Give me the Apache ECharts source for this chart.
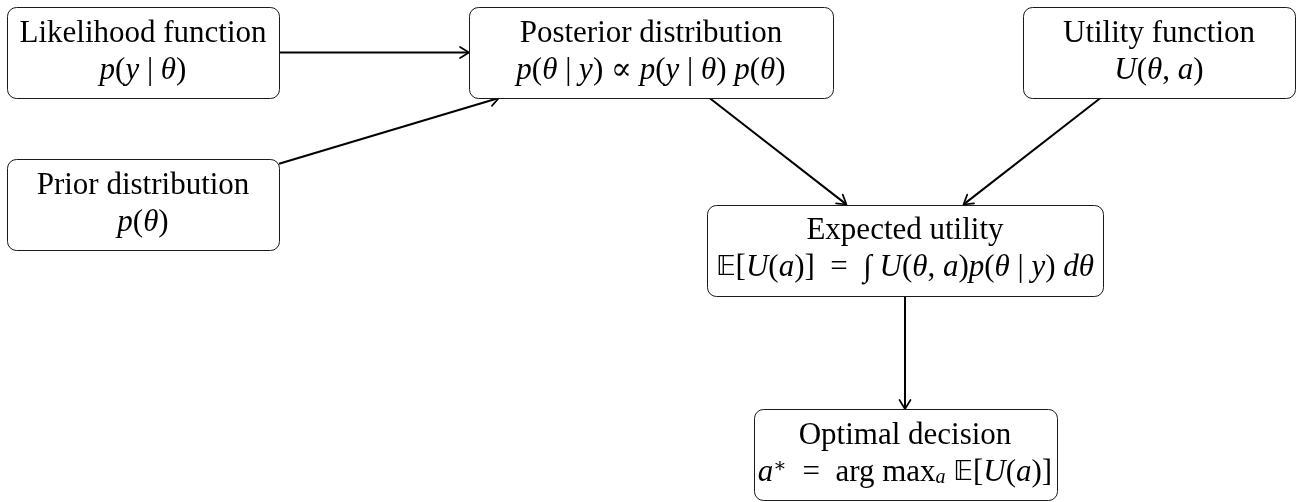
<!DOCTYPE html>
<html>
<head>
<meta charset="utf-8">
<title>Bayesian decision flow</title>
<script src="https://cdn.jsdelivr.net/npm/echarts@6/dist/echarts.min.js"></script>
<style>
  html, body { margin: 0; padding: 0; background: #fff; }
  #main { width: 1311px; height: 502px; }
</style>
</head>
<body>
<div id="main"></div>
<script>
// node captions and formulas (rich text tokens: r = upright, i = italic)
var nodeTitles = ['Likelihood function', 'Posterior distribution', 'Utility function',
                  'Prior distribution', 'Expected utility', 'Optimal decision'];
var nodeFormulas = [
  '{i|p}{r|(}{i|y}{r| | }{i|θ}{r|)}',
  '{i|p}{r|(}{i|θ}{r| | }{i|y}{r|) ∝ }{i|p}{r|(}{i|y}{r| | }{i|θ}{r|) }{i|p}{r|(}{i|θ}{r|)}',
  '{i|U}{r|(}{i|θ}{r|, }{i|a}{r|)}',
  '{i|p}{r|(}{i|θ}{r|)}',
  '{bb|𝔼}{r|[}{i|U}{r|(}{i|a}{r|)]  =  ∫ }{i|U}{r|(}{i|θ}{r|, }{i|a}{r|)}{i|p}{r|(}{i|θ}{r| | }{i|y}{r|) }{i|dθ}',
  '{i|a}{sup|∗}{r|  =  arg max}{sub|a}{r| }{bb|𝔼}{r|[}{i|U}{r|(}{i|a}{r|)]}'
];
// node centres in diagram units
var nodeX = [143, 651, 1159, 143, 905, 905];
var nodeY = [52.5, 52.5, 52.5, 204.5, 250, 454.5];
// edges: from -> to
var edgeFrom = [0, 3, 1, 2, 4];
var edgeTo   = [1, 1, 4, 4, 5];

// box extents (diagram units)
var boxW = [272, 364, 272, 272, 396, 303];
var boxH = 91;

var chart = echarts.init(document.getElementById('main'));

var serif = '"Liberation Serif", "DejaVu Serif", serif';
var fs = 31;
var mathRich = {
  r:   { fontFamily: serif, fontSize: fs, fill: '#000' },
  i:   { fontFamily: serif, fontSize: fs, fontStyle: 'italic', fill: '#000' },
  bb:  { fontFamily: '"DejaVu Sans", serif', fontSize: fs - 4, fill: '#000' },
  sup: { fontFamily: serif, fontSize: 20, fill: '#000', verticalAlign: 'top' },
  sub: { fontFamily: serif, fontSize: 20, fontStyle: 'italic', fill: '#000', verticalAlign: 'bottom' }
};

function renderNode(params, api) {
  var i = params.dataIndex;
  var c = api.coord([nodeX[i], nodeY[i]]);
  var s = api.size([boxW[i], boxH]);
  var x0 = Math.round(c[0] - s[0] / 2) + 0.5;
  var y0 = Math.round(c[1] - s[1] / 2) + 0.5;
  return {
    type: 'group',
    children: [
      { type: 'rect',
        shape: { x: x0, y: y0, width: Math.round(s[0]), height: Math.round(s[1]), r: 9 },
        style: { fill: '#fff', stroke: '#1a1a1a', lineWidth: 1 } },
      { type: 'text', x: c[0], y: c[1] - 19,
        style: { text: nodeTitles[i], font: fs + 'px ' + serif, fill: '#000',
                 align: 'center', verticalAlign: 'middle' } },
      { type: 'text', x: c[0], y: c[1] + 18,
        style: { text: nodeFormulas[i], rich: mathRich, fontFamily: serif, fontSize: fs,
                 fill: '#000', align: 'center', verticalAlign: 'middle' } }
    ]
  };
}

function clipT(dx, dy, hw, hh) {
  var tx = dx === 0 ? Infinity : hw / Math.abs(dx);
  var ty = dy === 0 ? Infinity : hh / Math.abs(dy);
  return Math.min(tx, ty);
}

function renderEdge(params, api) {
  var k = params.dataIndex;
  var a = edgeFrom[k], b = edgeTo[k];
  var pa = api.coord([nodeX[a], nodeY[a]]);
  var pb = api.coord([nodeX[b], nodeY[b]]);
  var sa = api.size([boxW[a], boxH]);
  var sb = api.size([boxW[b], boxH]);
  var dx = pb[0] - pa[0], dy = pb[1] - pa[1];
  var ta = clipT(dx, dy, sa[0] / 2, sa[1] / 2);
  var tb = clipT(dx, dy, sb[0] / 2, sb[1] / 2);
  var start = [pa[0] + dx * ta, pa[1] + dy * ta];
  var end = [pb[0] - dx * tb, pb[1] - dy * tb];
  var len = Math.sqrt(dx * dx + dy * dy);
  var ux = dx / len, uy = dy / len;
  var nx = -uy, ny = ux;
  var back = [end[0] - ux * 9, end[1] - uy * 9];
  return {
    type: 'group',
    children: [
      { type: 'line',
        shape: { x1: start[0], y1: start[1], x2: end[0] - ux, y2: end[1] - uy },
        style: { stroke: '#000', lineWidth: 2 } },
      { type: 'polyline',
        shape: { points: [[back[0] + nx * 5.5, back[1] + ny * 5.5], end, [back[0] - nx * 5.5, back[1] - ny * 5.5]] },
        style: { stroke: '#000', lineWidth: 1.7, fill: null, lineJoin: 'round', lineCap: 'round' } }
    ]
  };
}

chart.setOption({
  backgroundColor: '#fff',
  animation: false,
  grid: { left: 0, right: 0, top: 0, bottom: 0 },
  xAxis: { type: 'value', min: 0, max: 1311, show: false },
  yAxis: { type: 'value', min: 0, max: 502, inverse: true, show: false },
  series: [
    { type: 'custom', name: 'edges', renderItem: renderEdge,
      data: edgeFrom.map(function (f, k) { return [nodeX[f], nodeY[f], nodeX[edgeTo[k]], nodeY[edgeTo[k]]]; }),
      silent: true, z: 1 },
    { type: 'custom', name: 'nodes', renderItem: renderNode,
      data: nodeTitles.map(function (t, i) { return [nodeX[i], nodeY[i]]; }),
      silent: true, z: 2 }
  ]
});
</script>
</body>
</html>
